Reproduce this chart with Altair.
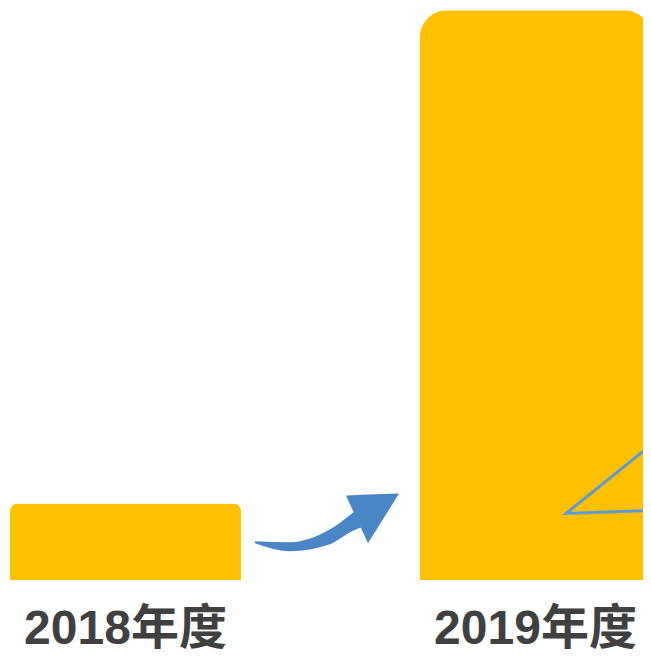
import altair as alt
import pandas as pd

# Bar data
years = ["2018年度", "2019年度"]
values = [1.0, 7.45]

# Decorative arrow (annotation space in reference pixels)
shaft_x = [255, 290, 330, 352, 362]
shaft_top = [545, 546, 533, 517, 509]
shaft_bottom = [547, 555, 548, 535, 531]
head_x = [346, 368, 399]
head_top = [499, 498, 497]
head_bottom = [499, 547, 497]

# Triangle outline inside the 2019 bar
tri_x = [651, 566, 651]
tri_y = [448, 517, 514]
tri_order = [0, 1, 2]

W, H = 635, 572
YMAX = 7.48

bars = pd.DataFrame({"year": years, "value": values})
shaft = pd.DataFrame({"x": shaft_x, "y": shaft_top, "y2": shaft_bottom})
head = pd.DataFrame({"x": head_x, "y": head_top, "y2": head_bottom})
tri = pd.DataFrame({"x": tri_x, "y": tri_y, "o": tri_order})

FONT = "Liberation Sans, Arial, Noto Sans CJK SC"
BAR = "#FFC000"

# band positions: bars at ref x 10-242 and 420-651 (plot coords 2..643)
xband = alt.Scale(domain=years, range=[2, 643], paddingInner=0.4366, paddingOuter=0)
yval = alt.Scale(domain=[0, YMAX], nice=False, zero=True)
ax_x = alt.Scale(domain=[8, 651], range=[0, 643], nice=False, zero=False)
ax_y = alt.Scale(domain=[8, 584], nice=False, zero=False, reverse=True)

bar1 = alt.Chart(bars).transform_filter(alt.datum.year == years[0]).mark_bar(
    color=BAR, cornerRadiusTopLeft=8, cornerRadiusTopRight=8
).encode(
    x=alt.X("year:N", scale=xband, sort=years, title=None,
            axis=alt.Axis(labelAngle=0, labelFontSize=48, labelFontWeight="bold",
                          labelColor="#404040", labelFont=FONT, ticks=False,
                          domain=False, labelPadding=63, labelBaseline="alphabetic",
                          labelLimit=400, labelOverlap=False)),
    y=alt.Y("value:Q", scale=yval, axis=None),
)

bar2 = alt.Chart(bars).transform_filter(alt.datum.year == years[1]).mark_bar(
    color=BAR, cornerRadiusTopLeft=27, cornerRadiusTopRight=27
).encode(
    x=alt.X("year:N", scale=xband, sort=years, axis=None),
    y=alt.Y("value:Q", scale=yval, axis=None),
)

shaft_l = alt.Chart(shaft).mark_area(color="#4A86C6", interpolate="monotone").encode(
    x=alt.X("x:Q", scale=ax_x, axis=None),
    y=alt.Y("y:Q", scale=ax_y, axis=None),
    y2="y2:Q",
)
head_l = alt.Chart(head).mark_area(color="#4A86C6").encode(
    x=alt.X("x:Q", scale=ax_x, axis=None),
    y=alt.Y("y:Q", scale=ax_y, axis=None),
    y2="y2:Q",
)
tri_l = alt.Chart(tri).mark_line(color="#5B9BD5", strokeWidth=3).encode(
    x=alt.X("x:Q", scale=ax_x, axis=None),
    y=alt.Y("y:Q", scale=ax_y, axis=None),
    order="o:Q",
)

chart = alt.layer(bar1, bar2, shaft_l, head_l, tri_l).resolve_scale(
    x="independent", y="independent"
).properties(
    width=W, height=H,
    autosize=alt.AutoSizeParams(type="none"),
    padding={"left": 0, "top": 0, "right": 0, "bottom": 70},
    background="white",
).configure_view(stroke=None)

chart.save("out.html", embed_options={"renderer": "svg", "actions": False})
